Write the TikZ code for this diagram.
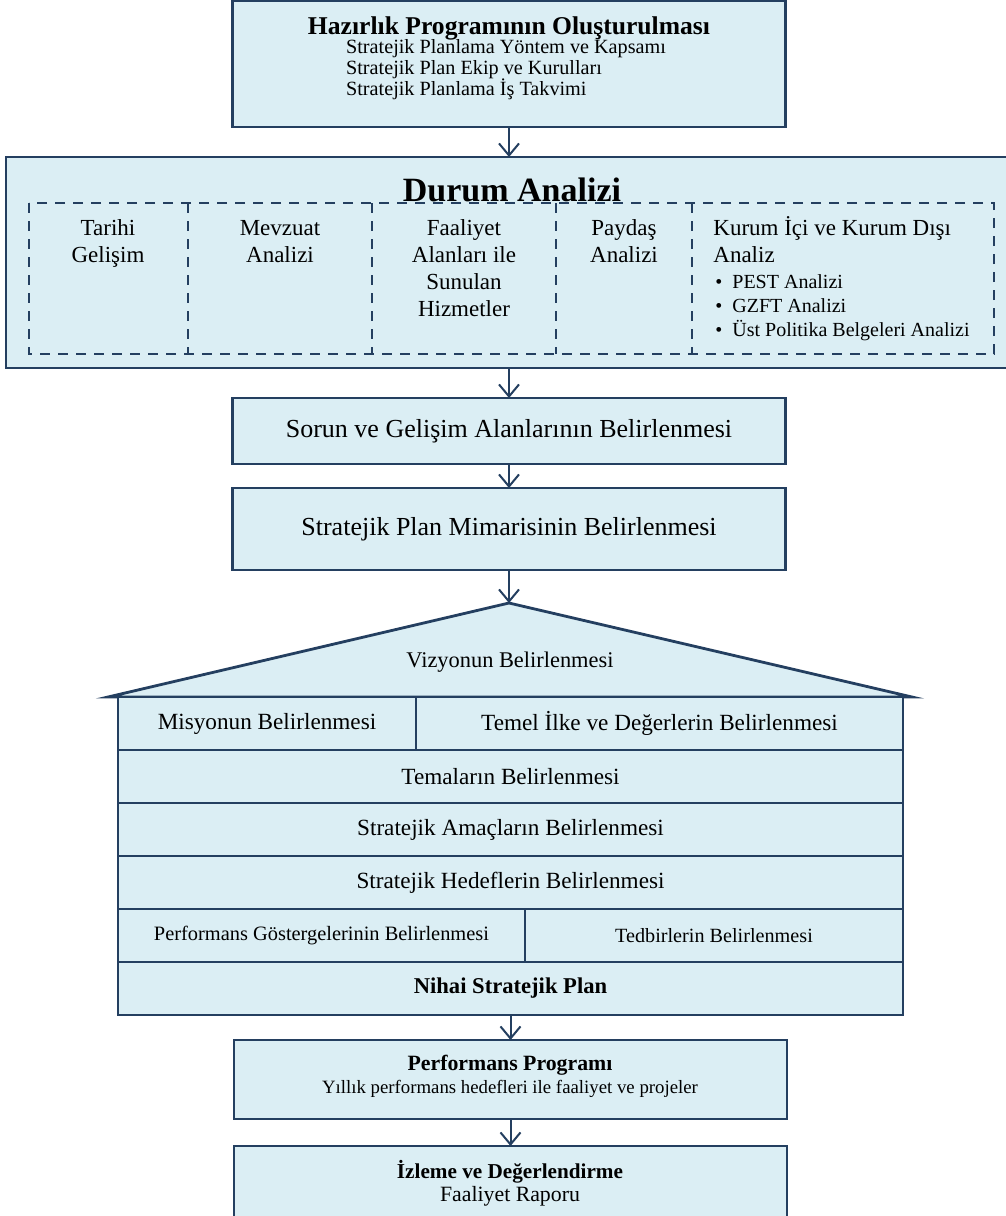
\documentclass[tikz,border=0pt]{standalone}
\usepackage{fontspec}
\setmainfont{Liberation Serif}
\usepackage{xcolor}
\usepackage{tikz}
\usetikzlibrary{arrows.meta, positioning}

\definecolor{kutumavi}{HTML}{DBEEF4}
\definecolor{cizgi}{HTML}{243F60}

\begin{document}
\begin{tikzpicture}[x=0.5pt, y=-0.5pt]
\tikzstyle{main} = [rectangle, draw=cizgi, fill=kutumavi, line width=1.4pt, outer sep=0pt, inner sep=0pt, minimum width=276.5pt, align=center]
\tikzstyle{row} = [rectangle, draw=cizgi, fill=kutumavi, line width=1.3pt, outer sep=0pt, inner sep=0pt, minimum height=26.5pt, font=\fontsize{11.6}{14}\selectfont]
\tikzstyle{column} = [align=center, anchor=base, inner sep=0pt, font=\fontsize{11.5}{13.5}\selectfont]
\tikzstyle{divider} = [cizgi, line width=1pt, dash pattern=on 5pt off 4pt]
\tikzstyle{arrow} = [cizgi, line width=1pt, -{Straight Barb[length=6pt, width=10pt, line width=1pt]}]

\useasboundingbox (0,0) rectangle (1006,1216);

% hazirlik programi
\node (hazirlik) [main, minimum height=63pt, anchor=north] at (509,1) {};
\node (hazirlikbaslik) [inner sep=0pt, anchor=base, font=\bfseries\fontsize{12.8}{15}\selectfont] at (509,34) {Hazırlık Programının Oluşturulması};
% base = son satir
\node (hazirlikalt) [inner sep=0pt, anchor=base, align=left, font={\fontsize{10.1}{10.4}\selectfont\lineskiplimit=-10pt\relax}] at (506,95) {Stratejik Planlama Yöntem ve Kapsamı\\Stratejik Plan Ekip ve Kurulları\\Stratejik Planlama İş Takvimi};

% durum analizi
\node (durum) [main, minimum width=503pt, minimum height=105.5pt, below=15pt of hazirlik] {};
\node (durumbaslik) [inner sep=0pt, anchor=base, font=\bfseries\fontsize{17}{20}\selectfont] at (512,201) {Durum Analizi};
\draw [divider] (29,203) rectangle (994,354);
\foreach \x in {188,372,556,692}
  \draw [divider] (\x,203) -- (\x,354);

\node (tarihi) [column] at (108,262) {Tarihi\\Gelişim};
\node (mevzuat) [column] at (280,262) {Mevzuat\\Analizi};
\node (faaliyet) [column] at (464,316) {Faaliyet\\Alanları ile\\Sunulan\\Hizmetler};
\node (paydas) [column] at (624,262) {Paydaş\\Analizi};
\node (kurum) [column, align=left, anchor=base west] at (713,262) {Kurum İçi ve Kurum Dışı\\Analiz};
\node (kurumliste) [inner sep=0pt, anchor=base west, align=left, font=\fontsize{10}{12}\selectfont] at (715,336) {\textbullet\hspace{5pt}PEST Analizi\\\textbullet\hspace{5pt}GZFT Analizi\\\textbullet\hspace{5pt}Üst Politika Belgeleri Analizi};

% sorun ve mimari
\node (sorun) [main, minimum height=33pt, below=15pt of durum, font=\fontsize{13}{15}\selectfont] {Sorun ve Gelişim Alanlarının Belirlenmesi};
\node (mimari) [main, minimum height=41pt, below=12pt of sorun, font=\fontsize{13}{15}\selectfont] {Stratejik Plan Mimarisinin Belirlenmesi};
\coordinate [below=16.5pt of mimari] (tepe);

% plan evi
\filldraw [draw=cizgi, fill=kutumavi, line width=1.4pt] (108,697) -- (tepe) -- (912,697) -- cycle;
\node (vizyon) [font=\fontsize{11.2}{13}\selectfont] at (510,662) {Vizyonun Belirlenmesi};

\node (misyon) [row, minimum width=149pt, anchor=north west] at (118,697) {Misyonun Belirlenmesi};
\node (temel) [row, minimum width=243.5pt, right=0pt of misyon] {Temel İlke ve Değerlerin Belirlenmesi};
\node (temalar) [row, minimum width=392.5pt, anchor=north west] at (misyon.south west) {Temaların Belirlenmesi};
\node (amac) [row, minimum width=392.5pt, below=0pt of temalar] {Stratejik Amaçların Belirlenmesi};
\node (hedef) [row, minimum width=392.5pt, below=0pt of amac] {Stratejik Hedeflerin Belirlenmesi};
\node (gosterge) [row, minimum width=203.5pt, anchor=north west, font=\fontsize{10.2}{12}\selectfont] at (hedef.south west) {Performans Göstergelerinin Belirlenmesi};
\node (tedbir) [row, minimum width=189pt, right=0pt of gosterge, font=\fontsize{10.1}{12}\selectfont] {Tedbirlerin Belirlenmesi};
\node (nihai) [row, minimum width=392.5pt, anchor=north west, font=\bfseries\fontsize{11.3}{14}\selectfont] at (gosterge.south west) {Nihai Stratejik Plan};

% performans ve izleme
\node (performans) [main, minimum height=39.5pt, below=12.5pt of nihai] {};
\node (performansyazi) [inner sep=0pt, anchor=base, align=center, font=\fontsize{9.4}{11.5}\selectfont] at (510,1093) {{\bfseries\fontsize{10.9}{13}\selectfont Performans Programı}\\Yıllık performans hedefleri ile faaliyet ve projeler};
\node (izleme) [main, minimum height=44pt, below=13.5pt of performans] {};
\node (izlemeyazi) [inner sep=0pt, anchor=base, align=center, font=\fontsize{10.9}{11.5}\selectfont] at (510,1201) {{\bfseries\fontsize{10.6}{13}\selectfont İzleme ve Değerlendirme}\\Faaliyet Raporu};

\draw [arrow] (hazirlik) -- (durum);
\draw [arrow] (durum) -- (sorun);
\draw [arrow] (sorun) -- (mimari);
\draw [arrow] (mimari) -- (tepe);
\draw [arrow] (nihai) -- (performans);
\draw [arrow] (performans) -- (izleme);

\end{tikzpicture}
\end{document}
